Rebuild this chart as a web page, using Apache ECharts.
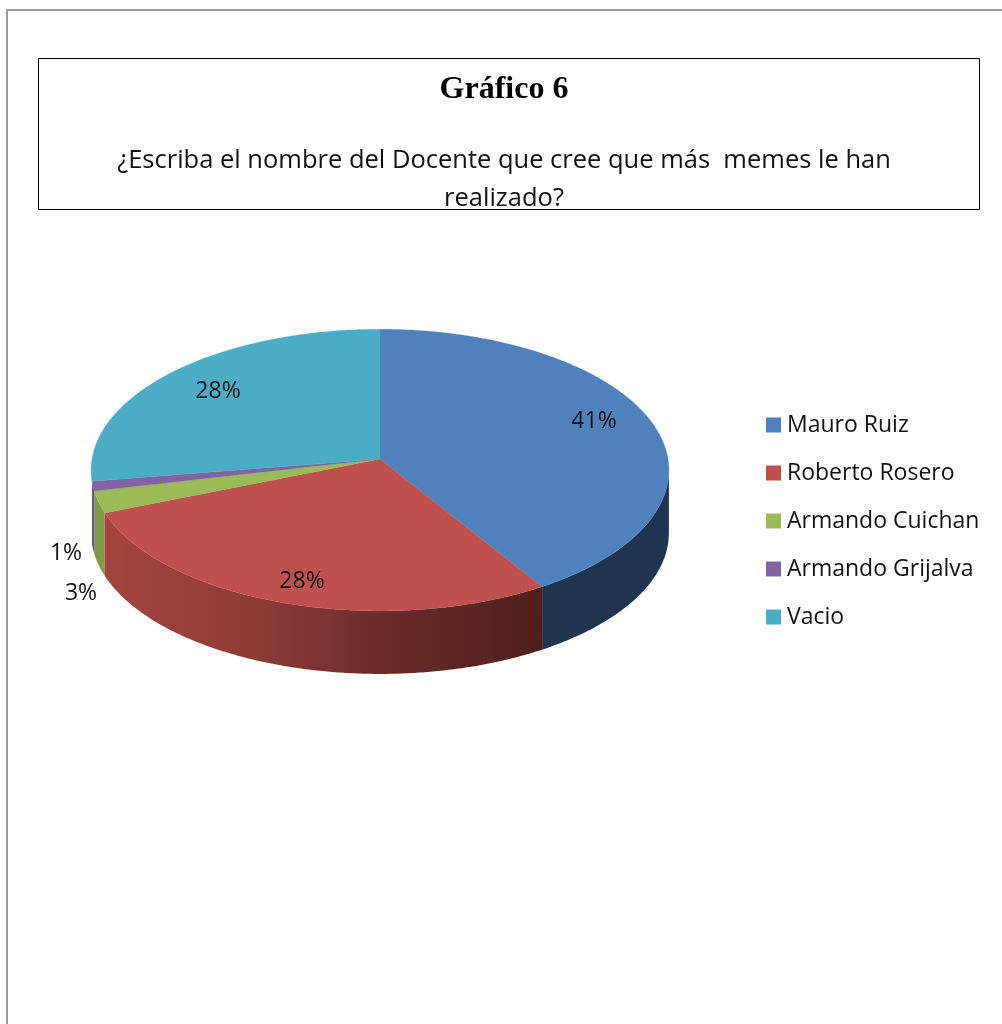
<!DOCTYPE html>
<html>
<head>
<meta charset="utf-8">
<style>html,body{margin:0;padding:0;background:#fff}#c{width:1002px;height:1024px}</style>
<script src="https://cdn.jsdelivr.net/npm/echarts@6/dist/echarts.min.js"></script>
</head>
<body>
<div id="c"></div>
<script>
const categories = ['Mauro Ruiz', 'Roberto Rosero', 'Armando Cuichan', 'Armando Grijalva', 'Vacio'];
const values = [41.2, 27.7, 2.5, 1.1, 27.5];
const percentLabels = ['41%', '28%', '3%', '1%', '28%'];
const topColors = ['#4f81bd', '#c0504d', '#9bbb59', '#8064a2', '#4bacc6'];
const wallColors = ['#1f344f', null, '#7f9a48', '#67518a', null];
const labelCentres = [[594, 421], [302, 581], [81, 593], [66, 553], [218, 391]];

// Perspective disc: maps the unit circle to the tilted pie's top face.
const PIE = {cx: 380, cy: 459, d: 288, a: 103.9, c: -0.0786, depth: 63, wallFrom: 94.5, wallTo: 265.5};
function project(deg) {
  const t = deg * Math.PI / 180;
  const u = Math.sin(t), v = -Math.cos(t);
  const w = 1 + PIE.c * v;
  return [PIE.cx + PIE.d * u / w, (PIE.a * v + PIE.cy) / w];
}
function arc(from, to) {
  const pts = [];
  const n = Math.max(2, Math.ceil((to - from) * 2));
  for (let i = 0; i <= n; i++) pts.push(project(from + (to - from) * i / n));
  return pts;
}
const total = values.reduce((s, x) => s + x, 0);

const redWall = new echarts.graphic.LinearGradient(100, 0, 545, 0, [
  {offset: 0, color: '#a54541'}, {offset: 0.35, color: '#8d3b37'},
  {offset: 0.7, color: '#642926'}, {offset: 1, color: '#4e1e1b'}
], true);

function makeRender(index) {
  return function (params, api) {
    let before = 0;
    for (let i = 0; i < index; i++) before += values[i];
    const start = before / total * 360;
    const end = start + api.value(0) / total * 360;
    const top = [[PIE.cx, PIE.cy]].concat(arc(start, end));
    const centre = labelCentres[index];
    const children = [
      {type: 'polygon', z2: 10, shape: {points: top},
        style: {fill: topColors[index], stroke: topColors[index], lineWidth: 0.3}},
      {type: 'text', z2: 20, x: centre[0], y: centre[1],
        style: {text: percentLabels[index], fill: '#111', align: 'center', verticalAlign: 'middle',
          font: '23px "Open Sans"'}}
    ];
    const wallStart = Math.max(start, PIE.wallFrom), wallEnd = Math.min(end, PIE.wallTo);
    const fill = index === 1 ? redWall : wallColors[index];
    if (fill && wallEnd > wallStart) {
      const rim = arc(wallStart, wallEnd);
      const wall = rim.concat(rim.slice().reverse().map(p => [p[0], p[1] + PIE.depth]));
      children.unshift({type: 'polygon', z2: 1, shape: {points: wall}, style: {fill: fill, stroke: null}});
    }
    return {type: 'group', children: children};
  };
}

const chart = echarts.init(document.getElementById('c'), null, {renderer: 'canvas'});
chart.setOption({
  animation: false,
  backgroundColor: '#fff',
  color: topColors,
  legend: {
    show: true, orient: 'vertical', left: 761, top: 407,
    itemWidth: 15, itemHeight: 15, itemGap: 22,
    icon: 'rect', selectedMode: false,
    data: categories,
    textStyle: {fontFamily: 'Open Sans', fontSize: 23, color: '#111', lineHeight: 26, padding: [0, 0, 0, 1]}
  },
  graphic: [
    {type: 'polyline', z: 0, shape: {points: [[7, 1024], [7, 10], [1002, 10]]},
      style: {stroke: '#9a9a9a', lineWidth: 2, fill: null}},
    {type: 'rect', z: 0, shape: {x: 38.5, y: 58.5, width: 941, height: 151},
      style: {stroke: '#000', lineWidth: 1, fill: '#fff'}},
    {type: 'text', z: 1, x: 504, y: 90,
      style: {text: 'Gráfico 6', font: 'bold 32px "Liberation Serif"', fill: '#000', align: 'center', verticalAlign: 'middle'}},
    {type: 'text', z: 1, x: 504, y: 161,
      style: {text: '¿Escriba el nombre del Docente que cree que más  memes le han', font: '25.5px "Open Sans"', fill: '#111', align: 'center', verticalAlign: 'middle'}},
    {type: 'text', z: 1, x: 504, y: 199,
      style: {text: 'realizado?', font: '25.5px "Open Sans"', fill: '#111', align: 'center', verticalAlign: 'middle'}}
  ],
  series: categories.map((name, i) => ({
    type: 'custom', name: name, coordinateSystem: 'none',
    itemStyle: {color: topColors[i]},
    renderItem: makeRender(i),
    data: [[values[i]]],
    silent: true
  }))
});
</script>
</body>
</html>
